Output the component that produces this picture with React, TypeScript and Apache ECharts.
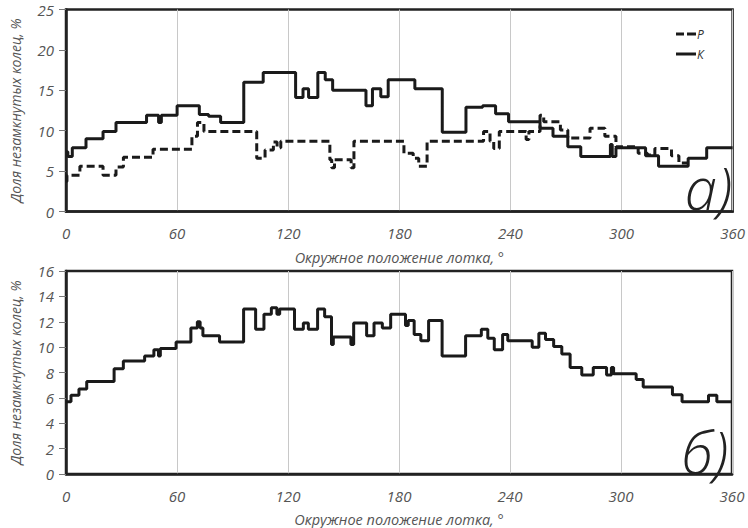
import React, { useEffect, useRef } from "react";
import * as echarts from "echarts";

// Top chart (а): series Р (dashed) and К (solid); [angle °, share %], step levels
const topP: [number, number][] = [
  [0, 3.7], [0.5, 4.5], [7.5, 5.6], [20, 4.5], [27, 5.5], [31, 6.7], [47, 7.7], [68, 9.3],
  [71, 11.0], [74.5, 9.9], [103, 6.6], [107.5, 7.6], [112, 8.6], [114, 7.9], [116, 8.7],
  [142.5, 6.4], [143.5, 5.4], [145, 6.4], [154, 5.4], [155.5, 8.7], [182.5, 7.2], [187.5, 6.6],
  [190.5, 5.6], [195, 8.7], [225.5, 9.9], [229, 8.7], [231, 7.8], [234, 9.9], [248.5, 8.9],
  [250, 9.9], [256, 11.9], [258, 11.1], [267, 10.1], [271, 9.1], [283, 10.3], [291, 9.3],
  [297, 8.0], [309, 7.2], [314, 7.0], [318, 7.8], [327, 6.9], [331, 6.0], [336, 6.0],
];
const topK: [number, number][] = [
  [0, 7.4], [1, 6.8], [3.4, 7.9], [10.8, 9.0], [20, 9.9], [27, 11.0], [43.5, 11.9], [50, 11.0],
  [51.5, 11.9], [60, 13.1], [72, 12.0], [77, 11.8], [83.5, 11.0], [96, 16.0], [106.5, 17.2],
  [124, 14.1], [128, 15.2], [131, 14.1], [136, 17.2], [140, 16.3], [144, 15.0], [162, 13.1],
  [165.5, 15.2], [170, 14.2], [174, 16.3], [188.4, 15.2], [203.2, 9.8], [216, 12.9], [225, 13.1],
  [232, 12.1], [239, 11.1], [256, 10.3], [263, 9.3], [271, 8.0], [278, 6.8], [294, 8.3],
  [295, 6.8], [297, 7.9], [313, 6.9], [320, 5.6], [336, 6.6], [346, 7.9], [360, 7.9],
];
// Bottom chart (б)
const bottomK: [number, number][] = [
  [0, 5.7], [2.7, 6.2], [7, 6.7], [11.2, 7.3], [26, 8.3], [31, 8.9], [42.5, 9.3], [47.5, 9.8],
  [50, 9.3], [51, 9.9], [59.5, 10.4], [67.5, 11.5], [71, 12.0], [72.5, 11.5], [74, 10.9],
  [83, 10.4], [96, 13.0], [102.5, 11.4], [107, 12.6], [111, 13.1], [114, 12.6], [115.5, 13.0],
  [123.5, 11.4], [128.3, 11.9], [131, 11.4], [136, 13.0], [139.8, 12.4], [143.5, 10.2],
  [144.5, 10.8], [154, 10.2], [155.5, 11.9], [162.5, 10.9], [166.5, 11.9], [171, 11.5],
  [175.5, 12.6], [183.5, 11.7], [185, 12.1], [188.2, 11.0], [191.8, 10.5], [196, 12.1],
  [203.3, 9.3], [216, 10.9], [224.5, 11.4], [228, 10.7], [231.5, 9.8], [236, 11.0],
  [238.8, 10.5], [252, 10.0], [255.6, 11.1], [259.2, 10.6], [263.6, 10.05], [268, 9.45],
  [272.5, 8.4], [278.8, 7.8], [285, 8.4], [292.2, 7.8], [294.8, 8.4], [296, 7.9], [308.2, 7.45],
  [312, 6.85], [327.8, 6.25], [333, 5.7], [347.3, 6.2], [351.8, 5.7], [360, 5.7],
];
const xTicks = { min: 0, max: 360, interval: 60 };
const topY = { min: 0, max: 25, interval: 5 };
const bottomY = { min: 0, max: 16, interval: 2 };
const xTitle = "Окружное положение лотка, °";
const yTitle = "Доля незамкнутых колец, %";

const FONT = "'Open Sans', 'DejaVu Sans', sans-serif";
const labelStyle = { color: "#555", fontStyle: "italic" as const, fontSize: 15, fontFamily: FONT };

function xAxis(gridIndex: number) {
  return {
    type: "value" as const,
    gridIndex,
    ...xTicks,
    name: xTitle,
    nameLocation: "middle" as const,
    nameGap: 38,
    nameTextStyle: { ...labelStyle, fontSize: 14.5, color: "#555" },
    axisLine: { show: true, lineStyle: { color: "#222", width: 2.5 } },
    axisTick: { show: false },
    axisLabel: { ...labelStyle, margin: 14 },
    splitLine: { show: true, lineStyle: { color: "#c8c8c8", width: 1 } },
  };
}
function yAxis(gridIndex: number, r: { min: number; max: number; interval: number }) {
  return {
    type: "value" as const,
    gridIndex,
    ...r,
    name: yTitle,
    nameLocation: "middle" as const,
    nameGap: 44,
    nameRotate: 90,
    nameTextStyle: { ...labelStyle, fontSize: 14, color: "#555" },
    axisLine: { show: true, lineStyle: { color: "#222", width: 2.5 } },
    axisTick: { show: true, length: 7, lineStyle: { color: "#777", width: 1 } },
    axisLabel: { ...labelStyle, margin: 12 },
    splitLine: { show: false },
  };
}

const DASH_ICON = "path://M0,0h8v3h-8z M11,0h9v3h-9z";

export default function App() {
  const ref = useRef<HTMLDivElement>(null);
  useEffect(() => {
    if (!ref.current) return;
    const chart = echarts.init(ref.current, null, { renderer: "svg" });
    chart.setOption({
      animation: false,
      backgroundColor: "#fff",
      grid: [
        { left: 59, right: 15, top: 9.5, height: 202, show: true, borderColor: "#222", borderWidth: 2.5, backgroundColor: "transparent" },
        { left: 59, right: 16, top: 271, height: 205, show: true, borderColor: "#222", borderWidth: 2.5, backgroundColor: "transparent" },
      ],
      xAxis: [xAxis(0), xAxis(1)],
      yAxis: [yAxis(0, topY), yAxis(1, bottomY)],
      legend: {
        orient: "vertical",
        left: 671,
        top: 23,
        itemWidth: 20,
        itemHeight: 3,
        itemGap: 8,
        itemStyle: { color: "#1a1a1a", borderWidth: 0 },
        textStyle: { ...labelStyle, fontSize: 12, color: "#333", padding: [0, 0, 0, -4] },
        data: [
          { name: "Р", icon: DASH_ICON },
          { name: "К", icon: "rect" },
        ],
      },
      series: [
        {
          name: "Р", type: "line", xAxisIndex: 0, yAxisIndex: 0, data: topP, step: "end",
          showSymbol: false, symbol: "none",
          lineStyle: { color: "#1a1a1a", width: 3, type: [8, 4] }, itemStyle: { color: "#1a1a1a" },
        },
        {
          name: "К", type: "line", xAxisIndex: 0, yAxisIndex: 0, data: topK, step: "end",
          showSymbol: false, symbol: "none",
          lineStyle: { color: "#1a1a1a", width: 3 }, itemStyle: { color: "#1a1a1a" },
        },
        {
          name: "б", type: "line", xAxisIndex: 1, yAxisIndex: 1, data: bottomK, step: "end",
          showSymbol: false, symbol: "none",
          lineStyle: { color: "#1a1a1a", width: 3 }, itemStyle: { color: "#1a1a1a" },
        },
      ],
      graphic: [
        {
          type: "text", right: 16, top: 158,
          style: { text: "а)", font: `italic 300 58px ${FONT}`, fill: "#222" },
        },
        {
          type: "text", right: 20, top: 422,
          style: { text: "б)", font: `italic 300 58px ${FONT}`, fill: "#222" },
        },
      ],
    });
    return () => chart.dispose();
  }, []);
  return <div ref={ref} style={{ width: 748, height: 528, position: "absolute", left: 0, top: 0 }} />;
}
